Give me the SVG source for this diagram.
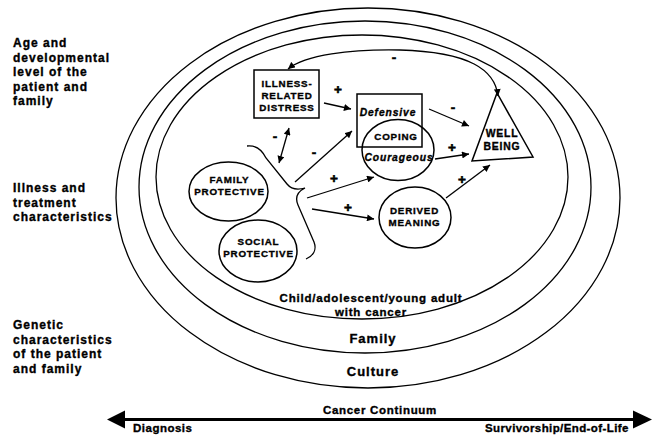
<svg xmlns="http://www.w3.org/2000/svg" width="655" height="435" viewBox="0 0 655 435">
<defs>
<style>
text{font-family:"Liberation Sans",Arial,sans-serif;font-weight:bold;fill:#000;stroke:#000;stroke-width:0.35px}
.side{font-size:12px;letter-spacing:1px}
.nd{font-size:9.8px;letter-spacing:0.8px;text-anchor:middle}
.wb{font-size:10.4px;letter-spacing:0.8px;text-anchor:middle}
.it{font-style:italic;font-size:10.3px;letter-spacing:0.9px;text-anchor:middle}
.sg{font-size:13.5px;letter-spacing:0;text-anchor:middle;stroke-width:0.6px}
.ring{fill:none;stroke:#000;stroke-width:1.3}
.shape{fill:none;stroke:#000;stroke-width:1.5}
.lbl{font-size:11.5px;letter-spacing:0.8px;text-anchor:middle}
.ring-lbl{font-size:13px;letter-spacing:1px;text-anchor:middle}
.bot{font-size:11.5px;letter-spacing:0.5px}
.con{fill:none;stroke:#000;stroke-width:1.3}
</style>
<marker id="ah" viewBox="0 0 10 10" refX="10" refY="5" markerWidth="7.5" markerHeight="7" markerUnits="userSpaceOnUse" orient="auto-start-reverse">
<path d="M0,0 L10,5 L0,10 Z" fill="#000"/>
</marker>
</defs>

<g id="rings">
<ellipse class="ring" cx="368" cy="198" rx="252" ry="190"/>
<ellipse class="ring" cx="365" cy="187" rx="226" ry="166"/>
<ellipse class="ring" cx="362" cy="177" rx="206" ry="142"/>
</g>

<g id="side-labels">
<text class="side" x="13" y="47">Age and</text>
<text class="side" x="13" y="61.5">developmental</text>
<text class="side" x="13" y="76">level of the</text>
<text class="side" x="13" y="90.5">patient and</text>
<text class="side" x="13" y="105">family</text>
<text class="side" x="13" y="192">Illness and</text>
<text class="side" x="13" y="206.5">treatment</text>
<text class="side" x="13" y="221">characteristics</text>
<text class="side" x="13" y="329">Genetic</text>
<text class="side" x="13" y="343.5">characteristics</text>
<text class="side" x="13" y="358">of the patient</text>
<text class="side" x="13" y="372.5">and family</text>
</g>

<g id="distress">
<rect class="shape" x="254" y="70" width="65" height="48"/>
<text class="nd" x="287" y="86.5">ILLNESS-</text>
<text class="nd" x="287" y="98.5">RELATED</text>
<text class="nd" x="287" y="110.5">DISTRESS</text>
</g>

<g id="coping">
<rect class="shape" x="357" y="94" width="65" height="53"/>
<ellipse class="shape" cx="398" cy="150" rx="36" ry="30.5"/>
<text class="it" x="388" y="115.5">Defensive</text>
<text class="nd" x="396" y="139.5">COPING</text>
<text class="it" x="399" y="160.5">Courageous</text>
</g>

<g id="wellbeing">
<polygon class="shape" points="497,93 472,161 533,157"/>
<text class="wb" x="502" y="137">WELL</text>
<text class="wb" x="502" y="150">BEING</text>
</g>

<g id="family-protective">
<ellipse class="shape" cx="228.5" cy="191.5" rx="39.5" ry="29.5"/>
<text class="nd" x="229.5" y="182.5">FAMILY</text>
<text class="nd" x="229.5" y="194.5">PROTECTIVE</text>
</g>

<g id="social-protective">
<ellipse class="shape" cx="258" cy="251" rx="39" ry="31"/>
<text class="nd" x="258.5" y="244.5">SOCIAL</text>
<text class="nd" x="258.5" y="256.5">PROTECTIVE</text>
</g>

<g id="derived-meaning">
<ellipse class="shape" cx="415" cy="217.5" rx="36" ry="30.5"/>
<text class="nd" x="414.5" y="213.5">DERIVED</text>
<text class="nd" x="414.5" y="225.5">MEANING</text>
</g>

<g id="brace">
<path class="con" d="M247,146 C256,145 262,150 266,158 L287,184 C291,189 298,190 305,188 C297,192 295,198 298,205 L314,242 C317,250 313,256 306,259"/>
</g>

<g id="ring-labels">
<text class="lbl" x="371" y="302">Child/adolescent/young adult</text>
<text class="lbl" x="371" y="316">with cancer</text>
<text class="ring-lbl" x="373" y="342.5">Family</text>
<text class="ring-lbl" x="373" y="375.5">Culture</text>
</g>

<g id="connectors">
<path class="con" d="M498,96 C495,70 470,52 400,50 C350,49 305,55 288,69" marker-start="url(#ah)" marker-end="url(#ah)"/>
<line class="con" x1="324" y1="103" x2="351" y2="109" marker-end="url(#ah)"/>
<line class="con" x1="429" y1="109" x2="469" y2="126" marker-end="url(#ah)"/>
<line class="con" x1="435" y1="159" x2="469" y2="154" marker-end="url(#ah)"/>
<line class="con" x1="289" y1="128" x2="279" y2="163" marker-start="url(#ah)" marker-end="url(#ah)"/>
<line class="con" x1="295" y1="182" x2="352" y2="131" marker-end="url(#ah)"/>
<line class="con" x1="307" y1="198" x2="374" y2="177" marker-end="url(#ah)"/>
<line class="con" x1="312" y1="209" x2="374" y2="219" marker-end="url(#ah)"/>
<line class="con" x1="446" y1="198" x2="490" y2="165" marker-end="url(#ah)"/>
</g>

<g id="signs">
<text class="sg" x="338" y="94">+</text>
<text class="sg" x="394" y="62">-</text>
<text class="sg" x="453" y="112">-</text>
<text class="sg" x="452" y="152">+</text>
<text class="sg" x="275" y="141">-</text>
<text class="sg" x="314" y="157">-</text>
<text class="sg" x="334" y="183">+</text>
<text class="sg" x="348" y="212">+</text>
<text class="sg" x="462" y="184">+</text>
</g>

<g id="continuum">
<line x1="122" y1="419.5" x2="636" y2="419.5" stroke="#000" stroke-width="3"/>
<polygon points="107,419.5 125,410.5 125,428.5" fill="#000"/>
<polygon points="652,419.5 633,410.5 633,428.5" fill="#000"/>
<text class="lbl" x="380" y="414" style="letter-spacing:0.7px">Cancer Continuum</text>
<text class="bot" x="133" y="432">Diagnosis</text>
<text class="bot" x="485" y="432" style="letter-spacing:0.4px">Survivorship/End-of-Life</text>
</g>
</svg>
